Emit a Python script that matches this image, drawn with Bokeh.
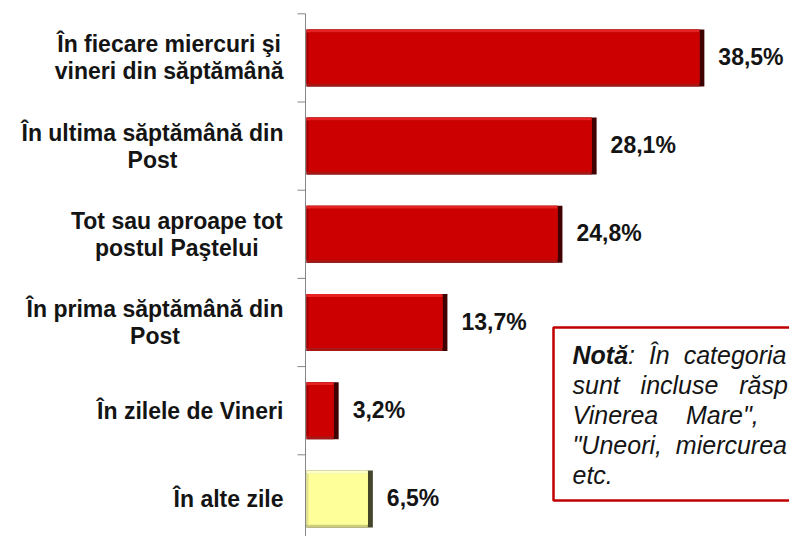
from bokeh.plotting import figure
from bokeh.models import ColumnDataSource, Range1d, BoxAnnotation
from bokeh.core.properties import value
from bokeh.embed import file_html
from bokeh.resources import INLINE

# ---------------- data ----------------
categories = [
    "În fiecare miercuri şi\nvineri din săptămână",
    "În ultima săptămână din\nPost",
    "Tot sau aproape tot\npostul Paştelui",
    "În prima săptămână din\nPost",
    "În zilele de Vineri",
    "În alte zile",
]
values = [38.5, 28.1, 24.8, 13.7, 3.2, 6.5]
value_labels = ["38,5%", "28,1%", "24,8%", "13,7%", "3,2%", "6,5%"]
series_group = ["main", "main", "main", "main", "main", "other"]

note_bold = "Notă"
note_lines = [
    ":  În  categoria  \"În  alte  zile\"  au  fost",
    "sunt   incluse   răspunsuri   precum   \"În   Joia",
    "Vinerea    Mare\",      \"În    ziua    de    Paşti\",",
    "\"Uneori,  miercurea  şi  vinerea\"",
    "etc.",
]

# ---------------- styles / geometry ----------------
W, H = 789, 536
AXIS_X = 305          # pixel position of the category axis
TOP_TICK = 13.3       # pixel position of the first band boundary
PX_X = 10.36          # pixels per percentage point
BAND = 88.2           # pixels per category band
FONT = "Liberation Sans"
GREY = "#868686"
INK = "#141414"
BASE_FIX = -8         # alphabetic-baseline correction (px)

STYLE = {
    "main":  dict(main="#CC0000", top="#E62222", bottom="#A81616", left="#A00000", right="#400000"),
    "other": dict(main="#FFFF99", top="#FFFFCC", bottom="#CDCD7A", left="#E2E28A", right="#45452A"),
}


def dx(px):
    return px / PX_X


def dy(px):
    return px / BAND


def page_y(py):
    return -0.5 + (py - TOP_TICK) / BAND


# approximate Arial Bold advance widths (em/1000)
BW = {' ': 278, 'a': 556, 'b': 611, 'c': 556, 'd': 611, 'e': 556, 'f': 333, 'g': 611, 'h': 611,
      'i': 278, 'j': 278, 'k': 556, 'l': 278, 'm': 889, 'n': 611, 'o': 611, 'p': 611, 'q': 611,
      'r': 389, 's': 556, 't': 333, 'u': 611, 'v': 556, 'w': 778, 'x': 556, 'y': 556, 'z': 500,
      'P': 667, 'T': 611, 'V': 667, 'Î': 278, 'I': 278, 'ă': 556, 'â': 556, 'ş': 556, 'N': 722}


def text_w(s, size):
    return sum(BW.get(c, 556) for c in s) / 1000.0 * size


LABEL_SIZE = 23
NOTE_SIZE = 25
NOTE_LINE = 30

top_edge = page_y(0)
p = figure(width=W, height=H, output_backend="svg", toolbar_location=None,
           x_range=Range1d(-AXIS_X / PX_X, (W - AXIS_X) / PX_X),
           y_range=Range1d(start=top_edge + H / BAND, end=top_edge),
           x_axis_location=None, y_axis_location=None,
           min_border=0, min_border_left=0, min_border_right=0,
           min_border_top=0, min_border_bottom=0,
           background_fill_color="white", border_fill_color="white")
p.outline_line_color = None
p.xgrid.visible = False
p.ygrid.visible = False

n = len(categories)
idx = list(range(n))

# ---------------- category axis: line + boundary ticks ----------------
bounds = [k - 0.5 for k in range(n + 1)]
p.segment(x0=[0], x1=[0], y0=[bounds[0]], y1=[bounds[-1]], line_color=GREY, line_width=1)
p.segment(x0=[dx(-8)] * len(bounds), x1=[0] * len(bounds), y0=bounds, y1=bounds,
          line_color=GREY, line_width=1)

# ---------------- bars with bevel ----------------
half = 57 / BAND / 2
src = ColumnDataSource(dict(
    y=idx,
    v=values,
    top=[i - half for i in idx],
    bottom=[i + half for i in idx],
    top_in=[i - half + dy(3) for i in idx],
    bottom_in=[i + half - dy(3) for i in idx],
    right_in=[v - dx(5) for v in values],
    c_main=[STYLE[g]["main"] for g in series_group],
    c_top=[STYLE[g]["top"] for g in series_group],
    c_bottom=[STYLE[g]["bottom"] for g in series_group],
    c_left=[STYLE[g]["left"] for g in series_group],
    c_right=[STYLE[g]["right"] for g in series_group],
))
p.quad(left=dx(1), right="v", top="top", bottom="bottom", fill_color="c_right", line_color=None, source=src)
p.quad(left=dx(1), right="right_in", top="top", bottom="bottom", fill_color="c_bottom", line_color=None, source=src)
p.quad(left=dx(1), right="right_in", top="top", bottom="bottom_in", fill_color="c_top", line_color=None, source=src)
p.quad(left=dx(1), right="right_in", top="top_in", bottom="bottom_in", fill_color="c_left", line_color=None, source=src)
p.quad(left=dx(3), right="right_in", top="top_in", bottom="bottom_in", fill_color="c_main", line_color=None, source=src)

# ---------------- value labels ----------------
vsrc = ColumnDataSource(dict(
    x=[v + dx(14) for v in values],
    y=[i + dy(9 + BASE_FIX - 2) for i in idx],
    text=value_labels,
))
p.text(x="x", y="y", text="text", source=vsrc, text_font=value(FONT), text_font_style="bold",
       text_font_size=value(f"{LABEL_SIZE}px"), text_color=INK,
       text_align="left", text_baseline="alphabetic")

# ---------------- category labels (centered lines, block right-aligned at axis) ----------------
lx, ly, lt = [], [], []
LINE = 27
for i, cat in enumerate(categories):
    lines = cat.split("\n")
    m = len(lines)
    maxw = max(text_w(s, LABEL_SIZE) for s in lines)
    cx = dx(-22) - dx(maxw / 2)
    for k, s in enumerate(lines):
        lx.append(cx)
        ly.append(i + dy(8 + BASE_FIX + (k - (m - 1) / 2) * LINE))
        lt.append(s)
lsrc = ColumnDataSource(dict(x=lx, y=ly, text=lt))
p.text(x="x", y="y", text="text", source=lsrc, text_align="center",
       text_baseline="alphabetic", text_font=value(FONT), text_font_style="bold",
       text_font_size=value(f"{LABEL_SIZE}px"), text_color=INK)

# ---------------- note box ----------------
p.add_layout(BoxAnnotation(left=dx(553 - AXIS_X), right=dx(W - AXIS_X + 40),
                           top=page_y(327), bottom=page_y(500),
                           fill_color="white", fill_alpha=1.0,
                           line_color="#C00000", line_alpha=1.0, line_width=2.5))
NX = dx(572 - AXIS_X)
first_base = 362 + BASE_FIX
bw = (722 + 611 + 333 + 556) / 1000 * NOTE_SIZE
nsrc_b = ColumnDataSource(dict(x=[NX], y=[page_y(first_base)], text=[note_bold]))
p.text(x="x", y="y", text="text", source=nsrc_b, text_font=value(FONT),
       text_font_style="bold italic", text_font_size=value(f"{NOTE_SIZE}px"),
       text_color=INK, text_baseline="alphabetic", level="overlay")
nx = [NX + (dx(bw) if k == 0 else 0) for k in range(len(note_lines))]
ny = [page_y(first_base + k * NOTE_LINE) for k in range(len(note_lines))]
nt = [s.replace(" ", "\u00a0") for s in note_lines]
nsrc = ColumnDataSource(dict(x=nx, y=ny, text=nt))
p.text(x="x", y="y", text="text", source=nsrc, text_font=value(FONT),
       text_font_style="italic", text_font_size=value(f"{NOTE_SIZE}px"),
       text_color=INK, text_baseline="alphabetic", level="overlay")

open("out.html", "w").write(file_html(p, INLINE))
